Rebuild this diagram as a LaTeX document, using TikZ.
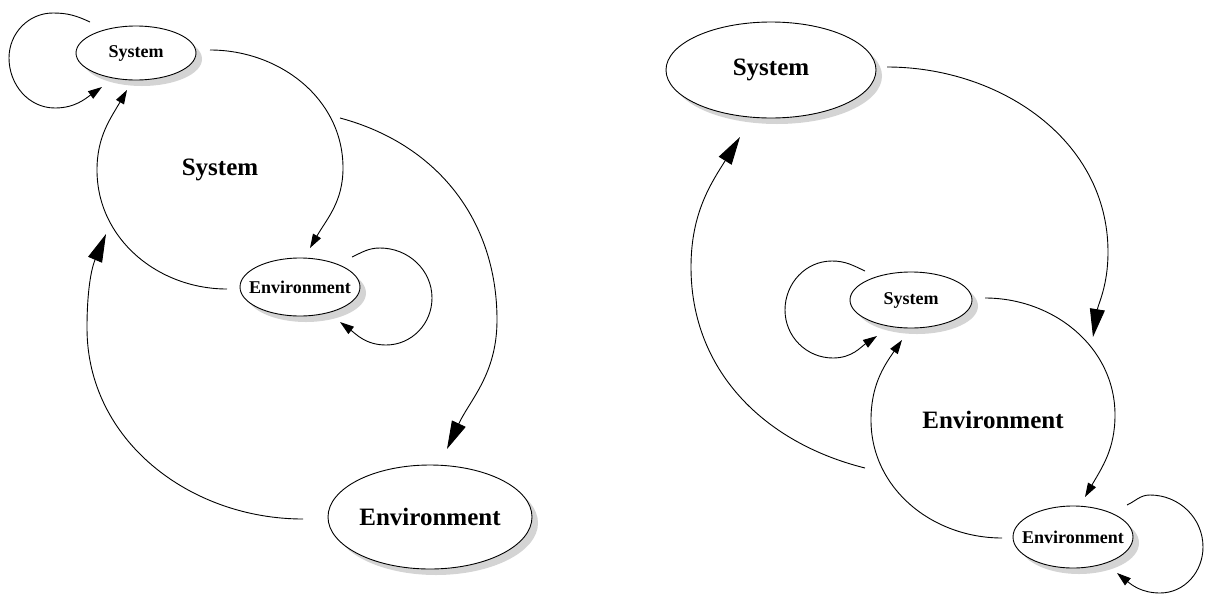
\documentclass[tikz,border=0pt]{standalone}
\usepackage{fontspec}
\setmainfont{Liberation Serif}
\usetikzlibrary{arrows.meta,shadows,shapes.geometric}
\begin{document}
\begin{tikzpicture}[x=1pt,y=1pt,
  ell/.style={draw, ellipse, line width=0.9pt, fill=white, inner sep=0pt,
    font=\bfseries\fontsize{18}{20}\selectfont,
    drop shadow={shadow xshift=6pt, shadow yshift=-6pt, fill=black!17, opacity=1}},
  bigell/.style={ell, font=\bfseries\fontsize{25}{28}\selectfont},
  lbl/.style={font=\bfseries\fontsize{25}{28}\selectfont},
  con/.style={line width=0.9pt},
  arrS/.style={con, -{Triangle[length=14pt,width=9pt]}},
  arrL/.style={con, -{Triangle[length=28pt,width=15pt]}}]
\useasboundingbox (0,0) rectangle (1208,-595);

% ---------------- left diagram ----------------
\node[ell, minimum width=120pt, minimum height=54pt] (ls) at (136,-53) {\makebox[0pt]{System}};
\node[ell, minimum width=120pt, minimum height=58pt] (le) at (300,-287) {\makebox[0pt]{Environment}};
\node[bigell, minimum width=204pt, minimum height=104pt] (lE) at (430,-517) {\makebox[0pt]{Environment}};
\node[lbl] (lsys) at (220,-170) {System};

\coordinate (a1s) at (210,-50);
\coordinate (a1m) at (343,-168);
\coordinate (a1e) at (310,-248);
\draw[arrS] (a1s) to[out=0,in=90] (a1m) to[out=-90,in=60] (a1e);

\coordinate (a2s) at (227,-289);
\coordinate (a2m) at (97,-170);
\coordinate (a2e) at (127,-90);
\draw[arrS] (a2s) to[out=180,in=-90] (a2m) to[out=90,in=-120] (a2e);

\coordinate (l1a) at (90,-22);
\coordinate (l1b) at (53,-13);
\coordinate (l1c) at (9,-58);
\coordinate (l1d) at (55,-108);
\coordinate (l1e) at (102,-87);
\draw[arrS] (l1a) to[out=155,in=0] (l1b) to[out=180,in=90] (l1c) to[out=-90,in=180] (l1d) to[out=0,in=-145] (l1e);

\coordinate (l2a) at (352,-257);
\coordinate (l2b) at (380,-248);
\coordinate (l2c) at (432,-298);
\coordinate (l2d) at (386,-345);
\coordinate (l2e) at (340,-322);
\draw[arrS] (l2a) to[out=25,in=180] (l2b) to[out=0,in=90] (l2c) to[out=-90,in=0] (l2d) to[out=180,in=-37] (l2e);

\coordinate (a3s) at (340,-118);
\coordinate (a3m) at (497,-320);
\coordinate (a3e) at (447,-449);
\draw[arrL] (a3s) to[out=-15,in=90] (a3m) to[out=-90,in=65] (a3e);

\coordinate (a4s) at (303,-519);
\coordinate (a4m) at (87,-328);
\coordinate (a4e) at (106,-234);
\draw[arrL] (a4s) to[out=180,in=-90] (a4m) to[out=90,in=-113] (a4e);

% ---------------- right diagram ----------------
\node[bigell, minimum width=210pt, minimum height=96pt] (rS) at (771,-70) {\makebox[0pt]{System}};
\node[ell, minimum width=122pt, minimum height=56pt] (rs) at (911,-300) {\makebox[0pt]{System}};
\node[ell, minimum width=120pt, minimum height=62pt] (re) at (1073,-537) {\makebox[0pt]{Environment}};
\node[lbl] (renv) at (993,-420) {Environment};

\coordinate (b1s) at (985,-298);
\coordinate (b1m) at (1115,-415);
\coordinate (b1e) at (1085,-497);
\draw[arrS] (b1s) to[out=0,in=90] (b1m) to[out=-90,in=60] (b1e);

\coordinate (b2s) at (1002,-538);
\coordinate (b2m) at (871,-420);
\coordinate (b2e) at (902,-340);
\draw[arrS] (b2s) to[out=180,in=-90] (b2m) to[out=90,in=-125] (b2e);

\coordinate (m1a) at (865,-271);
\coordinate (m1b) at (832,-261);
\coordinate (m1c) at (785,-310);
\coordinate (m1d) at (833,-358);
\coordinate (m1e) at (877,-336);
\draw[arrS] (m1a) to[out=155,in=0] (m1b) to[out=180,in=90] (m1c) to[out=-90,in=180] (m1d) to[out=0,in=-146] (m1e);

\coordinate (m2a) at (1127,-505);
\coordinate (m2b) at (1150,-495);
\coordinate (m2c) at (1203,-547);
\coordinate (m2d) at (1160,-593);
\coordinate (m2e) at (1117,-573);
\draw[arrS] (m2a) to[out=25,in=180] (m2b) to[out=0,in=90] (m2c) to[out=-90,in=0] (m2d) to[out=180,in=-39] (m2e);

\coordinate (b3s) at (887,-67);
\coordinate (b3m) at (1108,-252);
\coordinate (b3e) at (1093,-337);
\draw[arrL] (b3s) to[out=0,in=90] (b3m) to[out=-90,in=81] (b3e);

\coordinate (b4s) at (865,-468);
\coordinate (b4m) at (691,-267);
\coordinate (b4e) at (740,-137);
\draw[arrL] (b4s) to[out=166,in=-90] (b4m) to[out=90,in=-122] (b4e);
\end{tikzpicture}
\end{document}
